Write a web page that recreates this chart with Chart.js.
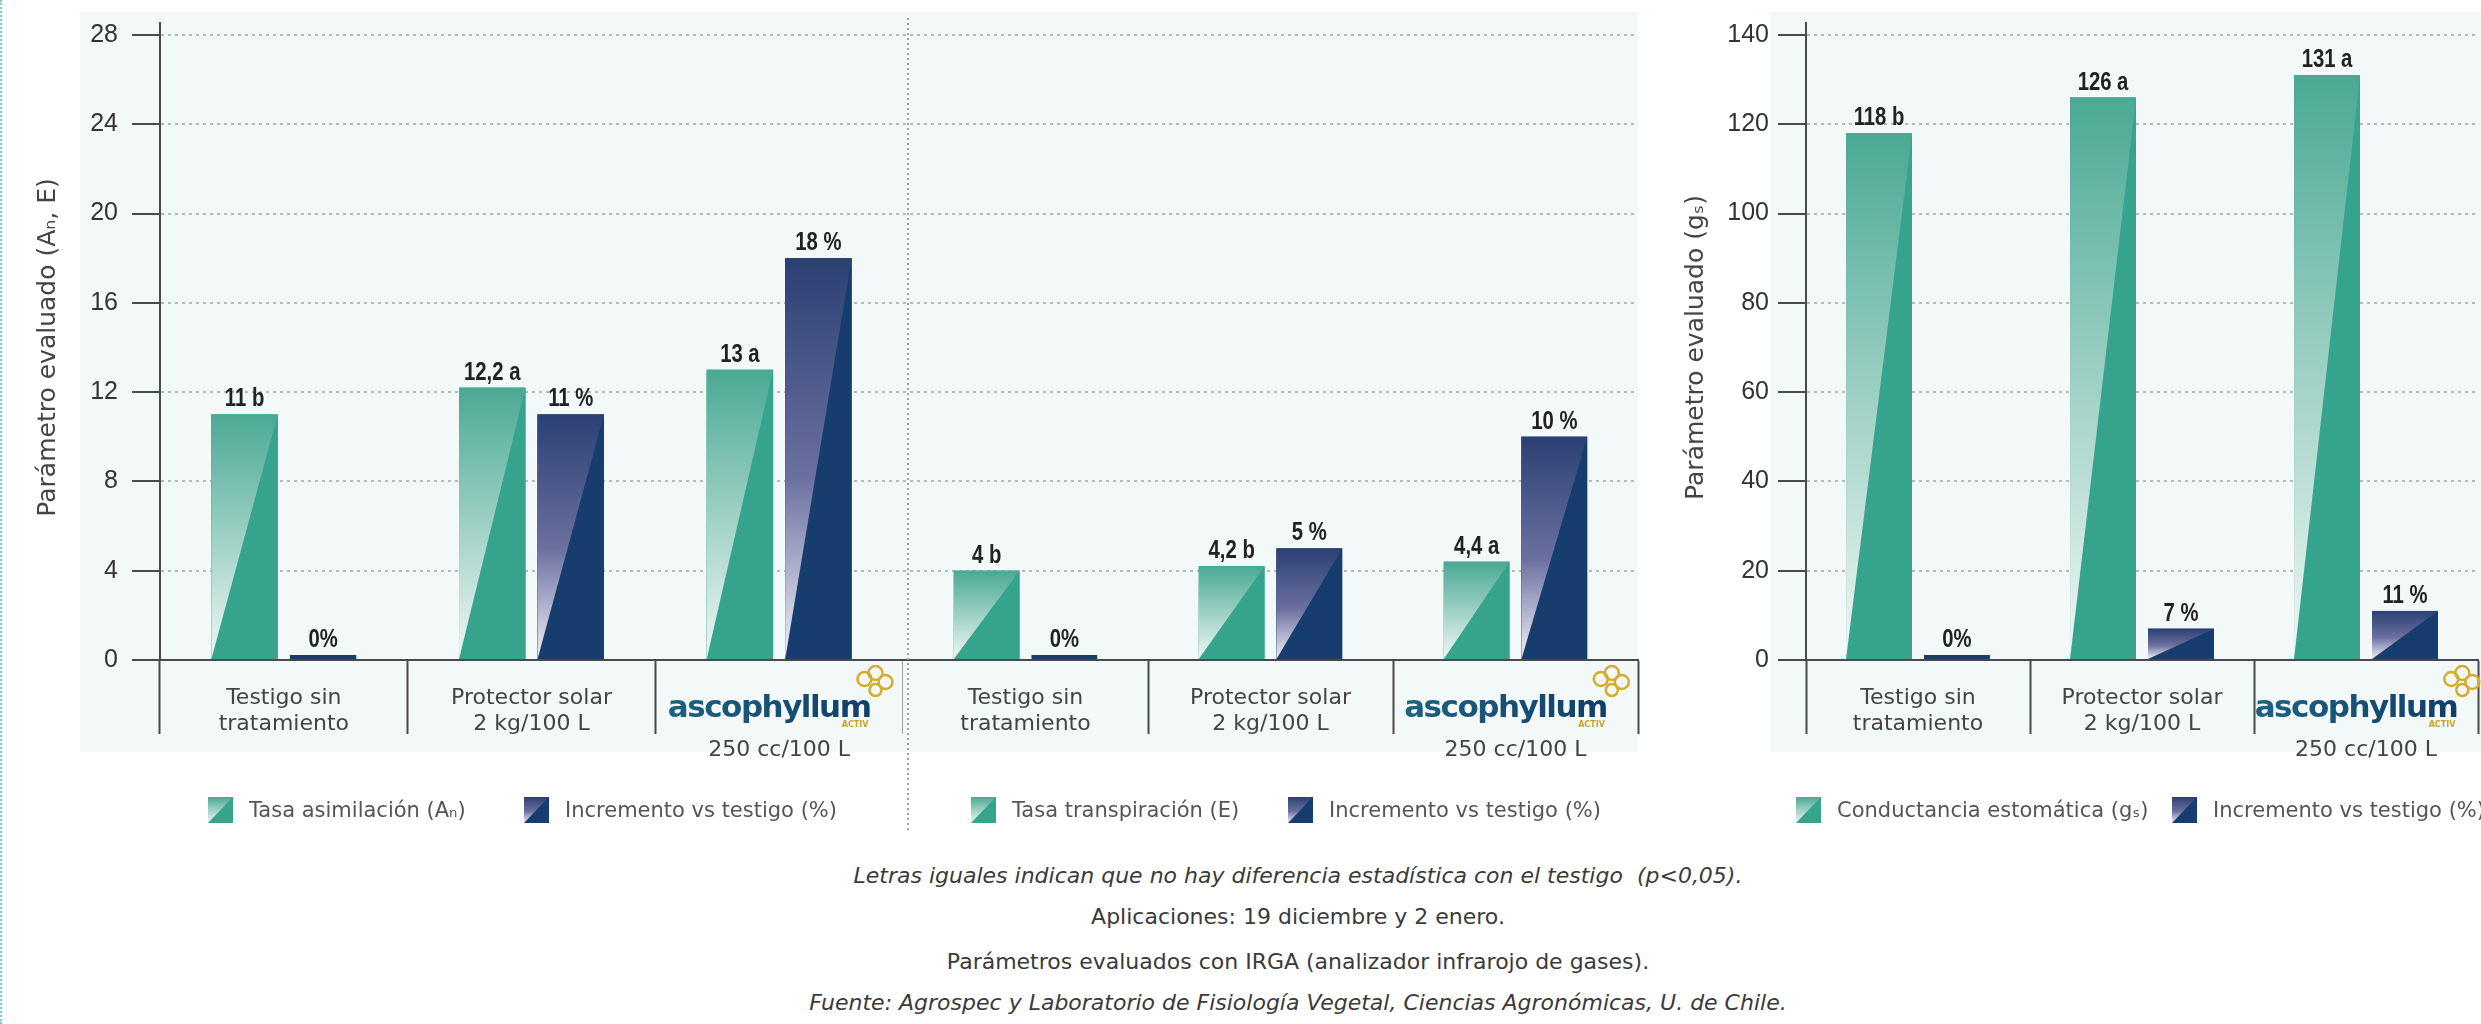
<!DOCTYPE html>
<html lang="es">
<head>
<meta charset="utf-8">
<title>Parámetros evaluados con IRGA</title>
<script src="https://cdn.jsdelivr.net/npm/chart.js@4.4.1/dist/chart.umd.min.js"></script>
<style>
  html, body { margin: 0; padding: 0; background: #fff; }
  body { position: relative; width: 2481px; height: 1024px; overflow: hidden; font-family: 'DejaVu Sans', sans-serif; }
  .frame { position: absolute; left: 0; top: 0; bottom: 0; border-left: 2px dotted #80cccc; }
  .chart { position: absolute; top: 0; }
  #chartA { left: 0; }
  #chartB { left: 903px; }
  #chartC { left: 1650px; }
  .legend-item { position: absolute; top: 797px; display: flex; align-items: center; font-size: 21px; color: #555; white-space: nowrap; }
  .legend-item canvas { margin-right: 16px; }
  .note { position: absolute; left: 1298px; transform: translateX(-50%); white-space: nowrap; font-size: 22px; line-height: 30px; color: #3a3a3a; }
  .note.it { font-style: italic; }
</style>
</head>
<body>
<div class="frame"></div>
<canvas id="chartA" class="chart" width="903" height="840"></canvas>
<canvas id="chartB" class="chart" width="747" height="840"></canvas>
<canvas id="chartC" class="chart" width="850" height="840"></canvas>
<div id="legends"></div>

<div class="note it" style="top:861px">Letras iguales indican que no hay diferencia estadística con el testigo&nbsp; (p&lt;0,05).</div>
<div class="note" style="top:902px">Aplicaciones: 19 diciembre y 2 enero.</div>
<div class="note" style="top:947px">Parámetros evaluados con IRGA (analizador infrarojo de gases).</div>
<div class="note it" style="top:988px">Fuente: Agrospec y Laboratorio de Fisiología Vegetal, Ciencias Agronómicas, U. de Chile.</div>

<script>
// Categories (third one carries the product logo, drawn by the plugin)
const categories = [['Testigo sin', 'tratamiento'], ['Protector solar', '2 kg/100 L'], ['', '', '250 cc/100 L']];
const brandName = 'ascophyllum';
const brandTag = 'ACTIV';
const incrementName = 'Incremento vs testigo (%)';

// Panel 1 - tasa de asimilación
const asimilacion = [11, 12.2, 13];
const asimilacionLabels = ['11 b', '12,2 a', '13 a'];
const incAsimilacion = [0, 11, 18];
const incAsimilacionLabels = ['0%', '11 %', '18 %'];

// Panel 2 - tasa de transpiración
const transpiracion = [4, 4.2, 4.4];
const transpiracionLabels = ['4 b', '4,2 b', '4,4 a'];
const incTranspiracion = [0, 5, 10];
const incTranspiracionLabels = ['0%', '5 %', '10 %'];

// Panel 3 - conductancia estomática
const conductancia = [118, 126, 131];
const conductanciaLabels = ['118 b', '126 a', '131 a'];
const incConductancia = [0, 7, 11];
const incConductanciaLabels = ['0%', '7 %', '11 %'];

// Axis ranges
const leftAxis = { max: 28, step: 4 };
const rightAxis = { max: 140, step: 20 };

const TEAL = { solid: '#36a48c', top: '#4aa994', bottom: '#f0f7f4' };
const NAVY = { solid: '#163d6d', top: '#2b4073', mid: '#6c70a0', bottom: '#eff0f7' };
const GRID = '#b4baba';
const AXIS = '#4a4a4a';
const LABEL_FONT = 'bold 26px "Liberation Sans", "DejaVu Sans", sans-serif';

Chart.defaults.font.family = "'DejaVu Sans', sans-serif";

// Diagonal split: solid lower-right triangle, fading upper-left triangle
function paintBar(ctx, l, t, r, b, c) {
  ctx.save();
  ctx.fillStyle = c.solid;
  ctx.fillRect(l, t, r - l, b - t);
  const g = ctx.createLinearGradient(0, t, 0, b);
  g.addColorStop(0, c.top);
  if (c.mid) g.addColorStop(0.55, c.mid);
  g.addColorStop(1, c.bottom);
  ctx.fillStyle = g;
  ctx.beginPath();
  ctx.moveTo(l, t);
  ctx.lineTo(r, t);
  ctx.lineTo(l, b);
  ctx.closePath();
  ctx.fill();
  ctx.restore();
}

const panelDeco = {
  id: 'panelDeco',
  beforeDraw(chart, args, opts) {
    const { ctx, chartArea } = chart;
    const right = opts.bgRight === 'full' ? chart.width : chartArea.right;
    ctx.save();
    ctx.fillStyle = '#f3f8f8';
    ctx.fillRect(opts.bgLeft, 12, right - opts.bgLeft, 740);
    ctx.restore();
  },
  afterDatasetsDraw(chart) {
    const ctx = chart.ctx;
    chart.data.datasets.forEach((ds, di) => {
      chart.getDatasetMeta(di).data.forEach((bar, i) => {
        const { x, y, base, width } = bar.getProps(['x', 'y', 'base', 'width'], true);
        const top = Math.min(y, base);
        const bottom = Math.max(y, base);
        if (bottom - top > 6) paintBar(ctx, x - width / 2, top, x + width / 2, bottom, ds.scheme);
        // value label, squeezed horizontally to look condensed
        ctx.save();
        ctx.translate(x, top - 8);
        ctx.scale(0.78, 1);
        ctx.font = LABEL_FONT;
        ctx.fillStyle = '#222';
        ctx.textAlign = 'center';
        ctx.textBaseline = 'alphabetic';
        ctx.fillText(ds.valueLabels[i], 0, 0);
        ctx.restore();
      });
    });
  },
  afterDraw(chart, args, opts) {
    const { ctx, chartArea } = chart;
    const xs = chart.scales.x;
    ctx.save();
    if (opts.axisExt) {
      ctx.strokeStyle = AXIS;
      ctx.lineWidth = 2;
      ctx.beginPath();
      ctx.moveTo(chartArea.left, chartArea.top - 13);
      ctx.lineTo(chartArea.left, chartArea.top);
      ctx.stroke();
    }
    if (opts.divider) {
      ctx.strokeStyle = '#9aa3a3';
      ctx.lineWidth = 2;
      ctx.setLineDash([2, 3]);
      ctx.beginPath();
      ctx.moveTo(chartArea.left + 5, 18);
      ctx.lineTo(chartArea.left + 5, 830);
      ctx.stroke();
      ctx.setLineDash([]);
    }
    // product logo for the third category
    const cx = xs.getPixelForTick(2) - 10;
    const baseY = chartArea.bottom + 57;
    ctx.font = 'bold 31px "DejaVu Sans"';
    ctx.letterSpacing = '-1.5px';
    const w = ctx.measureText(brandName).width;
    const g = ctx.createLinearGradient(cx - w / 2, 0, cx + w / 2, 0);
    g.addColorStop(0, '#1d6282');
    g.addColorStop(1, '#113e69');
    ctx.fillStyle = g;
    ctx.textAlign = 'center';
    ctx.textBaseline = 'alphabetic';
    ctx.fillText(brandName, cx, baseY);
    ctx.letterSpacing = '0px';
    ctx.font = 'bold 8px "DejaVu Sans"';
    ctx.fillStyle = '#c9a227';
    ctx.textAlign = 'right';
    ctx.fillText(brandTag, cx + w / 2 - 2, baseY + 10);
    const fx = cx + w / 2 + 3;
    const fy = baseY - 34;
    ctx.strokeStyle = '#d3ad2b';
    ctx.lineWidth = 2.5;
    [[-9, -4, 7], [2, -10, 7], [12, -1, 7], [2, 7, 6]].forEach(([dx, dy, r]) => {
      ctx.beginPath();
      ctx.arc(fx + dx, fy + dy, r, 0, Math.PI * 2);
      ctx.stroke();
    });
    ctx.restore();
  }
};

function makeChart(id, cfg) {
  const hide = cfg.hideSep;
  const yScale = cfg.showY ? {
    min: 0, max: cfg.axis.max,
    ticks: { stepSize: cfg.axis.step, padding: cfg.tickPad, color: '#333', font: { family: "'Liberation Sans', sans-serif", size: 25 } },
    grid: { color: GRID, lineWidth: 2, tickLength: 28, tickColor: AXIS, tickWidth: 2, tickBorderDash: [] },
    border: { display: true, color: AXIS, width: 2, dash: [3, 4] },
    title: { display: true, text: cfg.yTitle, color: '#444', font: { size: 25 }, padding: { top: cfg.titlePad, bottom: 0 } },
    afterFit: s => { s.width = cfg.yWidth; }
  } : {
    min: 0, max: cfg.axis.max,
    ticks: { display: false, stepSize: cfg.axis.step },
    grid: { color: GRID, lineWidth: 2, drawTicks: false },
    border: { display: false, dash: [3, 4] },
    afterFit: s => { s.width = 0; }
  };

  return new Chart(document.getElementById(id), {
    type: 'bar',
    data: {
      labels: categories,
      datasets: [
        { label: cfg.names[0], data: cfg.main, valueLabels: cfg.mainLabels, scheme: TEAL,
          backgroundColor: TEAL.solid, categoryPercentage: cfg.catPct, barPercentage: 0.846 },
        { label: incrementName, data: cfg.inc, valueLabels: cfg.incLabels, scheme: NAVY,
          backgroundColor: NAVY.solid, minBarLength: 5, categoryPercentage: cfg.catPct, barPercentage: 0.846 }
      ]
    },
    options: {
      responsive: false,
      animation: false,
      layout: { padding: { top: 35, right: cfg.padRight, bottom: 75, left: 0 } },
      plugins: {
        legend: { display: false },
        tooltip: { enabled: false },
        panelDeco: cfg.deco
      },
      scales: {
        x: {
          offset: true,
          grid: {
            offset: true, drawOnChartArea: false, drawTicks: true, tickLength: 74, tickWidth: 2,
            tickColor: c => (hide.includes(c.index) ? 'rgba(0,0,0,0)' : AXIS)
          },
          border: { display: true, color: AXIS, width: 2 },
          ticks: { padding: -49, color: '#444', autoSkip: false, maxRotation: 0,
            font: { size: 22, lineHeight: 1.18 } },
          afterFit: s => { s.height = 105; }
        },
        y: yScale
      }
    },
    plugins: [panelDeco]
  });
}

makeChart('chartA', {
  names: ['Tasa asimilación (Aₙ)'], main: asimilacion, mainLabels: asimilacionLabels,
  inc: incAsimilacion, incLabels: incAsimilacionLabels, axis: leftAxis, showY: true,
  yTitle: 'Parámetro evaluado (Aₙ, E)', yWidth: 160, tickPad: 14, titlePad: 33,
  catPct: 0.634, padRight: 0, hideSep: [3], deco: { bgLeft: 80, axisExt: true }
});
makeChart('chartB', {
  names: ['Tasa transpiración (E)'], main: transpiracion, mainLabels: transpiracionLabels,
  inc: incTranspiracion, incLabels: incTranspiracionLabels, axis: leftAxis, showY: false,
  catPct: 0.634, padRight: 12, hideSep: [0, 3], deco: { bgLeft: 0, divider: true }
});
makeChart('chartC', {
  names: ['Conductancia estomática (gₛ)'], main: conductancia, mainLabels: conductanciaLabels,
  inc: incConductancia, incLabels: incConductanciaLabels, axis: rightAxis, showY: true,
  yTitle: 'Parámetro evaluado (gₛ)', yWidth: 156, tickPad: 9, titlePad: 31,
  catPct: 0.696, padRight: 22, hideSep: [3], deco: { bgLeft: 120, bgRight: 'full', axisExt: true }
});

// HTML legends under each panel
const legendItems = [
  { left: 208, name: 'Tasa asimilación (Aₙ)', scheme: TEAL },
  { left: 524, name: incrementName, scheme: NAVY },
  { left: 971, name: 'Tasa transpiración (E)', scheme: TEAL },
  { left: 1288, name: incrementName, scheme: NAVY },
  { left: 1796, name: 'Conductancia estomática (gₛ)', scheme: TEAL },
  { left: 2172, name: incrementName, scheme: NAVY }
];
const legendBox = document.getElementById('legends');
legendItems.forEach(item => {
  const div = document.createElement('div');
  div.className = 'legend-item';
  div.style.left = item.left + 'px';
  const sw = document.createElement('canvas');
  sw.width = 25;
  sw.height = 26;
  paintBar(sw.getContext('2d'), 0, 0, 25, 26, item.scheme);
  const span = document.createElement('span');
  span.textContent = item.name;
  div.appendChild(sw);
  div.appendChild(span);
  legendBox.appendChild(div);
});
</script>
</body>
</html>
